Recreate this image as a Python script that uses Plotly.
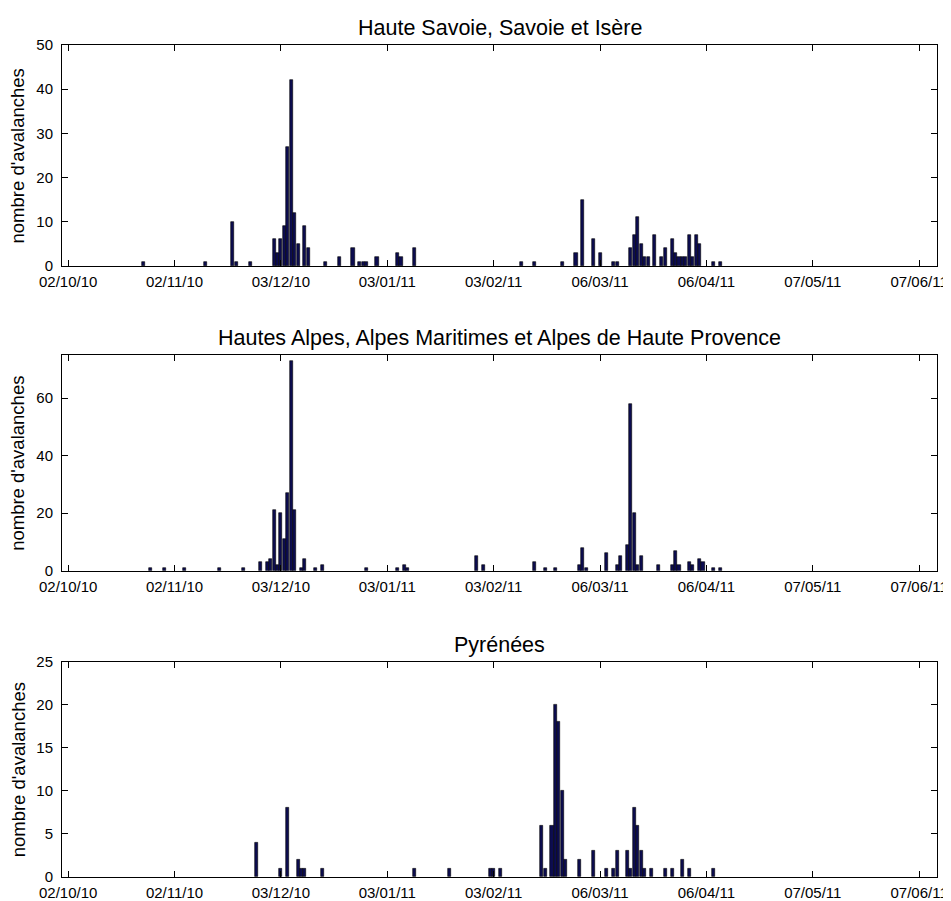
import pandas as pd
import plotly.graph_objects as go
from plotly.subplots import make_subplots

# ---- data (day offsets from the first date, counts) ----
start_date = "2010-10-02"

titles = ["Haute Savoie, Savoie et Isère",
          "Hautes Alpes, Alpes Maritimes et Alpes de Haute Provence",
          "Pyrénées"]
ylabel = "nombre d'avalanches"

top_days = [22, 40, 48, 49, 53, 60, 61, 62, 63, 64, 65, 66, 67, 69, 70, 75, 79, 83, 85, 86, 87, 90,
            96, 97, 101, 132, 136, 144, 148, 150, 153, 155, 159, 160, 164, 165, 166, 167, 168, 169,
            171, 173, 174, 176, 177, 178, 179, 180, 181, 182, 183, 184, 188, 190]
top_vals = [1, 1, 10, 1, 1, 6, 3, 6, 9, 27, 42, 12, 5, 9, 4, 1, 2, 4, 1, 1, 1, 2,
            3, 2, 4, 1, 1, 1, 3, 15, 6, 3, 1, 1, 4, 7, 11, 5, 2, 2,
            7, 2, 4, 6, 3, 2, 2, 2, 7, 2, 7, 5, 1, 1]

mid_days = [24, 28, 34, 44, 51, 56, 58, 59, 60, 61, 62, 63, 64, 65, 66, 68, 69, 72, 74, 87, 96, 98, 99,
            119, 121, 136, 139, 142, 149, 150, 151, 157, 160, 161, 163, 164, 165, 166, 167, 172,
            176, 177, 178, 181, 182, 184, 185, 188, 190]
mid_vals = [1, 1, 1, 1, 1, 3, 3, 4, 21, 2, 20, 11, 27, 73, 21, 1, 4, 1, 2, 1, 1, 2, 1,
            5, 2, 3, 1, 1, 2, 8, 1, 6, 2, 5, 9, 58, 20, 2, 5, 2,
            2, 7, 2, 3, 2, 4, 3, 1, 1]

bot_days = [55, 62, 64, 67, 68, 69, 74, 101, 111, 123, 124, 126, 138, 139, 141, 142, 143, 144, 145,
            149, 153, 157, 159, 160, 163, 164, 165, 166, 167, 168, 170, 174, 176, 179, 181, 188]
bot_vals = [4, 1, 8, 2, 1, 1, 1, 1, 1, 1, 1, 1, 6, 1, 6, 20, 18, 10, 2,
            2, 3, 1, 1, 3, 3, 1, 8, 6, 3, 1, 1, 1, 1, 2, 1, 1]

xtick_labels = ["02/10/10", "02/11/10", "03/12/10", "03/01/11", "03/02/11",
                "06/03/11", "06/04/11", "07/05/11", "07/06/11"]
y_ticks = [[0, 10, 20, 30, 40, 50], [0, 20, 40, 60], [0, 5, 10, 15, 20, 25]]
y_max = [50, 75, 25]

# ---- build ----
t0 = pd.Timestamp(start_date)
series = [(top_days, top_vals), (mid_days, mid_vals), (bot_days, bot_vals)]
tickvals = pd.to_datetime(xtick_labels, format="%d/%m/%y")

FONT = "Liberation Sans, Arial, Helvetica, sans-serif"
BAR_FILL = "rgb(12,12,80)"
DAY_MS = 86400000

fig = make_subplots(rows=3, cols=1)
domains = [[0.7344, 1.0], [0.3681, 0.6274], [0.0, 0.2588]]
xrange = ["2010-09-30 04:48", "2011-06-12 04:48"]

for i, (days, vals) in enumerate(series):
    dates = t0 + pd.to_timedelta(days, unit="D")
    fig.add_trace(go.Bar(x=dates, y=vals, width=0.9 * DAY_MS,
                         marker=dict(color=BAR_FILL, line=dict(color="black", width=0.6)),
                         showlegend=False), row=i + 1, col=1)
    xa = "xaxis" if i == 0 else f"xaxis{i + 1}"
    ya = "yaxis" if i == 0 else f"yaxis{i + 1}"
    fig.layout[xa].update(range=xrange, tickvals=tickvals, ticktext=xtick_labels,
                          automargin=False, ticklabelstandoff=2,
                          showgrid=False, zeroline=False, showline=True, mirror="ticks",
                          linecolor="black", linewidth=1, ticks="inside", ticklen=6,
                          tickcolor="black", tickfont=dict(family=FONT, size=15, color="black"))
    fig.layout[ya].update(domain=domains[i], range=[0, y_max[i]], tickvals=y_ticks[i],
                          automargin=False, ticklabelstandoff=5,
                          showgrid=False, zeroline=False, showline=True, mirror="ticks",
                          linecolor="black", linewidth=1, ticks="inside", ticklen=6,
                          tickcolor="black", tickfont=dict(family=FONT, size=15, color="black"))
    yref = "y domain" if i == 0 else f"y{i + 1} domain"
    fig.add_annotation(text=titles[i], xref="paper", x=0.5, yref=yref, y=1,
                       yanchor="bottom", yshift=3, showarrow=False,
                       font=dict(family=FONT, size=21.5, color="black"))
    fig.add_annotation(text=ylabel, xref="paper", x=-0.0503, yref=yref, y=0.5,
                       textangle=-90, xanchor="center", yanchor="middle", showarrow=False,
                       font=dict(family=FONT, size=18.5, color="black"))

# the page body adds an 8px offset, so the figure is sized to fit the window
fig.update_layout(width=943, height=893, paper_bgcolor="white", plot_bgcolor="white",
                  margin=dict(l=54, r=14, t=37, b=24, autoexpand=False), bargap=0)

fig.write_html("out.html")
